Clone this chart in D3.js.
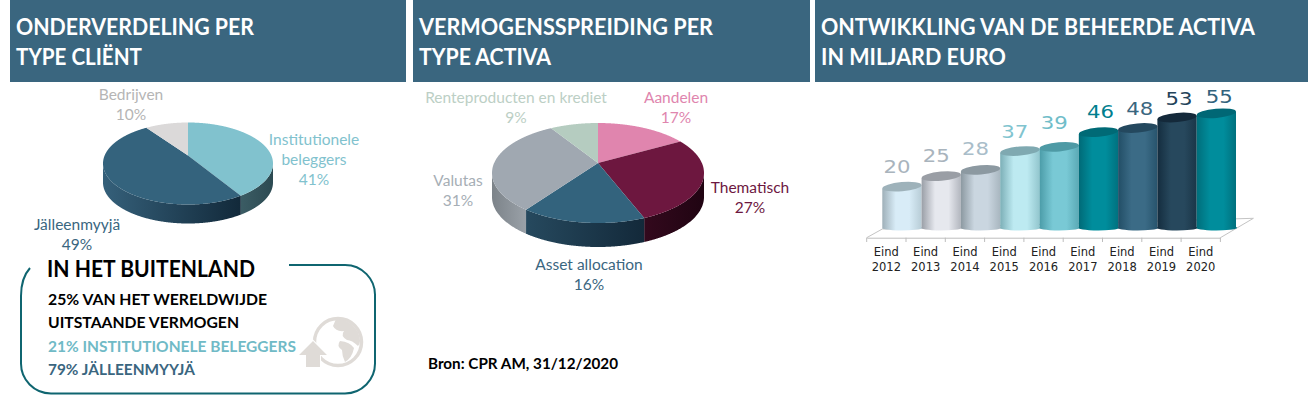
<!DOCTYPE html>
<html lang="nl">
<head>
<meta charset="utf-8">
<title>CPR AM</title>
<script src="https://cdn.jsdelivr.net/npm/d3@7"></script>
<style>
  html, body { margin: 0; padding: 0; background: #fff; }
  svg { display: block; }
  text { font-family: Lato, "Open Sans", sans-serif; }
</style>
</head>
<body>
<div id="chart"></div>
<script>
// data
const clientNames = [['Institutionele', 'beleggers'], ['Jälleenmyyjä'], ['Bedrijven']];
const clientShares = [41, 49, 10];
const assetNames = [['Aandelen'], ['Thematisch'], ['Asset allocation'], ['Valutas'], ['Renteproducten en krediet']];
const assetShares = [17, 27, 16, 31, 9];
const years = ['2012', '2013', '2014', '2015', '2016', '2017', '2018', '2019', '2020'];
const assetsUnderManagement = [20, 25, 28, 37, 39, 46, 48, 53, 55];

// styles
const HEADER = '#3a667f';
const clientStyles = [
  { top: '#81c2ce', side: ['#3b5c64', '#2c4a52'], label: '#81c2ce' },
  { top: '#34637d', side: ['#35607a', '#12293a'], label: '#3a667f' },
  { top: '#dbd9d9', side: ['#aaa', '#999'], label: '#b5b5b5' }
];
const assetStyles = [
  { top: '#e085ae', side: ['#a06080', '#905070'], label: '#e085ae' },
  { top: '#6d173f', side: ['#33091d', '#200412'], label: '#6d173f' },
  { top: '#33637d', side: ['#26495e', '#13293a'], label: '#3a667f' },
  { top: '#a0a8b1', side: ['#7c8389', '#9aa1a8'], label: '#a6aeb5' },
  { top: '#b5ccc0', side: ['#90a398', '#90a398'], label: '#bccfc5' }
];
const barStyles = [
  { edge: '#9fb0b9', mid: '#d8ecf7', end: '#b5cad4', cap: '#9eb2ba', label: '#a9b4bd' },
  { edge: '#9a9fa7', mid: '#e6e8ee', end: '#aeb2ba', cap: '#9a9ea5', label: '#a9b4bd' },
  { edge: '#8c99a1', mid: '#cad6e0', end: '#a6b4bd', cap: '#8c99a1', label: '#a9bdc9' },
  { edge: '#7cafb7', mid: '#bdeaf1', end: '#8fc3cb', cap: '#7fa9b1', label: '#81c4cf' },
  { edge: '#4b9ca8', mid: '#79c9d5', end: '#58a7b3', cap: '#4e9aa5', label: '#70bdc9' },
  { edge: '#006a77', mid: '#008d9c', end: '#006f7d', cap: '#006a76', label: '#007f8f' },
  { edge: '#224e66', mid: '#3b6b86', end: '#26526b', cap: '#24485e', label: '#3a667f' },
  { edge: '#142d3f', mid: '#27485d', end: '#193446', cap: '#14293a', label: '#24435a' },
  { edge: '#006e7b', mid: '#008d9c', end: '#006e7b', cap: '#006775', label: '#33637d' }
];
// the value labels do not sit exactly centred over the cylinders
const labelDx = [-5, -5, -5, -5, -5, 2, 2, 2, 3];
const labelDy = [0, 0, -1, 1, -4, 0, 1, 2, 4];

const svg = d3.select('#chart').append('svg').attr('width', 1308).attr('height', 396);
const defs = svg.append('defs');
let gradientId = 0;

function hGradient(stops) {
  const id = 'grad' + (gradientId++);
  const g = defs.append('linearGradient').attr('id', id);
  stops.forEach((c, i) => g.append('stop')
    .attr('offset', i / (stops.length - 1))
    .attr('stop-color', c));
  return `url(#${id})`;
}

// header bands
function header(x, width, lines, lengths) {
  svg.append('rect').attr('x', x).attr('y', 0).attr('width', width).attr('height', 82).attr('fill', HEADER);
  lines.forEach((t, i) => {
    svg.append('text')
      .attr('x', x + 6).attr('y', 35 + i * 30)
      .attr('fill', '#fff').attr('font-size', 22).attr('font-weight', 700)
      .attr('textLength', lengths[i]).attr('lengthAdjust', 'spacingAndGlyphs')
      .text(t);
  });
}
header(10, 396, ['ONDERVERDELING PER', 'TYPE CLIËNT'], [238, 126]);
header(413, 397, ['VERMOGENSSPREIDING PER', 'TYPE ACTIVA'], [294, 132]);
header(815, 493, ['ONTWIKKLING VAN DE BEHEERDE ACTIVA', 'IN MILJARD EURO'], [434, 185]);

// 3D pie: the apex sits above the ellipse centre, rays from it meet the rim
function drawPie(shares, styles, geo) {
  const { cx, cy, rx, ry, depth, apex } = geo;
  const o = apex / ry;
  const rim = a => {
    const ux = Math.sin(a), uy = -Math.cos(a);
    const t = -o * uy + Math.sqrt(o * o * uy * uy - o * o + 1);
    return [cx + rx * t * ux, cy + ry * (o + t * uy)];
  };
  const arcs = d3.pie().sort(null)(shares);
  const line = d3.line();
  const g = svg.append('g');

  arcs.forEach((d, i) => {
    const pts = d3.range(d.startAngle, d.endAngle, 0.005).concat(d.endAngle).map(rim);
    const front = pts.filter(p => p[1] >= cy);
    if (front.length > 1) {
      const lower = front.map(p => [p[0], p[1] + depth]).reverse();
      g.append('path')
        .attr('d', line(front.concat(lower)) + 'Z')
        .attr('fill', hGradient(styles[i].side));
    }
  });
  arcs.forEach((d, i) => {
    const pts = d3.range(d.startAngle, d.endAngle, 0.005).concat(d.endAngle).map(rim);
    g.append('path')
      .attr('d', line([[cx, cy + apex]].concat(pts)) + 'Z')
      .attr('fill', styles[i].top);
  });
}

function pieLabels(names, shares, styles, spots) {
  names.forEach((lines, i) => {
    const t = svg.append('text')
      .attr('text-anchor', 'middle').attr('font-size', 15.5)
      .attr('fill', styles[i].label);
    lines.concat(shares[i] + '%').forEach((s, j) => {
      t.append('tspan').attr('x', spots[i][0]).attr('y', spots[i][1] + j * 20).text(s);
    });
  });
}

drawPie(clientShares, clientStyles, { cx: 188, cy: 163.5, rx: 85, ry: 41, depth: 19, apex: -8 });
pieLabels(clientNames, clientShares, clientStyles, [[314, 145], [77, 230], [131, 100]]);

drawPie(assetShares, assetStyles, { cx: 598, cy: 173, rx: 106, ry: 50, depth: 24, apex: -10 });
pieLabels(assetNames, assetShares, assetStyles, [[676, 103], [750, 193], [589, 270], [458, 186], [516, 103]]);

// callout
svg.append('path')
  .attr('d', 'M30,268 Q21,278 21,296 V363 A30,30 0 0 0 51,393.5 H345 A30,30 0 0 0 375,363 V296 A30,30 0 0 0 345,265 H289')
  .attr('fill', 'none').attr('stroke', '#0f6570').attr('stroke-width', 2);

// globe icon
const icon = svg.append('g').attr('fill', '#dfdbd7');
icon.append('circle').attr('cx', 338).attr('cy', 342).attr('r', 23.5)
  .attr('fill', 'none').attr('stroke', '#dfdbd7').attr('stroke-width', 3.5);
icon.append('path')
  .attr('d', 'M336,319 Q350,319 358,332 Q362,342 358,346 Q352,340 347,340 Q340,336 344,331 Q336,332 333,326 Z');
icon.append('path')
  .attr('d', 'M340,341 Q350,342 354,348 Q352,358 345,362 Q342,356 342,350 Q336,346 340,341 Z');
icon.append('path').attr('d', 'M313,341 L327,355 L320,355 L320,367 L306,367 L306,355 L299,355 Z')
  .attr('stroke', '#fff').attr('stroke-width', 2).attr('paint-order', 'stroke');

const calloutLines = [
  { t: 'IN HET BUITENLAND', x: 47, y: 277, size: 22, weight: 700, fill: '#000', len: 208 },
  { t: '25% VAN HET WERELDWIJDE', x: 48, y: 305, size: 15, weight: 700, fill: '#000', len: 219 },
  { t: 'UITSTAANDE VERMOGEN', x: 48, y: 328, size: 15, weight: 700, fill: '#000', len: 191 },
  { t: '21% INSTITUTIONELE BELEGGERS', x: 48, y: 352, size: 15, weight: 700, fill: '#70bac6', len: 248 },
  { t: '79% JÄLLEENMYYJÄ', x: 48, y: 375, size: 15, weight: 700, fill: '#3a667f', len: 147 }
];
calloutLines.forEach(d => {
  svg.append('text')
    .attr('x', d.x).attr('y', d.y)
    .attr('font-size', d.size).attr('font-weight', d.weight).attr('fill', d.fill)
    .attr('textLength', d.len).attr('lengthAdjust', 'spacingAndGlyphs')
    .text(d.t);
});

svg.append('text')
  .attr('x', 428).attr('y', 369)
  .attr('font-size', 15).attr('font-weight', 700).attr('fill', '#000')
  .attr('textLength', 190).attr('lengthAdjust', 'spacingAndGlyphs')
  .text('Bron: CPR AM, 31/12/2020');

// cylinders
const x = d3.scaleBand().domain(years).range([866.7, 1220.4]).padding(0);
const y = d3.scaleLinear().domain([0, 55]).range([228.6, 113.3]);
const SHIFT = 15.6, TILT = 5, CAP_RY = 4.6, FOOT_RY = 2.6;
const bw = x.bandwidth();
const rise = bw / 2 * Math.tan(TILT * Math.PI / 180);

const plot = svg.append('g');

// floor of the chart
const floor = d3.line()([
  [x.range()[0], 237.7],
  [x.range()[0] + 15.6, 229],
  [x.range()[1] + 33, 218.3],
  [x.range()[1], 237.7]
]);
plot.append('path').attr('d', floor).attr('fill', '#fff').attr('stroke', '#c4c4c4').attr('stroke-width', 1);

const axis = plot.append('g')
  .attr('transform', 'translate(0,237.7)')
  .call(d3.axisBottom(x).tickSize(0).tickPadding(8));
axis.select('.domain').attr('stroke', '#bdbdbd');
axis.selectAll('.tick text').each(function (d) {
  const t = d3.select(this).text(null)
    .attr('dy', null)
    .attr('fill', '#222').attr('font-size', 11.5).style('font-family', '"DejaVu Sans"');
  t.append('tspan').attr('x', 0).attr('y', 18.5).text('Eind');
  t.append('tspan').attr('x', 0).attr('y', 33.5).text(d);
});
x.domain().concat('end').forEach((d, i) => {
  const px = x.range()[0] + i * x.step();
  plot.append('line').attr('x1', px).attr('x2', px).attr('y1', 237.7).attr('y2', 242)
    .attr('stroke', '#bdbdbd');
});

years.forEach((yr, i) => {
  const v = assetsUnderManagement[i];
  const st = barStyles[i];
  const left = x(yr) + SHIFT, right = left + bw;
  const top = y(v), base = y(0);
  plot.append('path')
    .attr('d', `M${left},${top + rise} L${left},${base}` +
      ` A${bw / 2},${FOOT_RY} 0 0 0 ${right},${base - rise}` +
      ` L${right},${top - rise} Z`)
    .attr('fill', hGradient([st.edge, st.mid, st.mid, st.end]));
  plot.append('ellipse')
    .attr('cx', left + bw / 2).attr('cy', top)
    .attr('rx', bw / 2).attr('ry', CAP_RY)
    .attr('transform', `rotate(${-TILT} ${left + bw / 2} ${top})`)
    .attr('fill', st.cap);
});

years.forEach((yr, i) => {
  const v = assetsUnderManagement[i];
  plot.append('text')
    .attr('x', x(yr) + SHIFT + bw / 2 + labelDx[i])
    .attr('y', y(v) - 14 + labelDy[i])
    .attr('text-anchor', 'middle')
    .attr('font-size', 18).style('font-family', '"DejaVu Sans"')
    .attr('textLength', 27).attr('lengthAdjust', 'spacingAndGlyphs')
    .attr('fill', barStyles[i].label)
    .text(v);
});
</script>
</body>
</html>
